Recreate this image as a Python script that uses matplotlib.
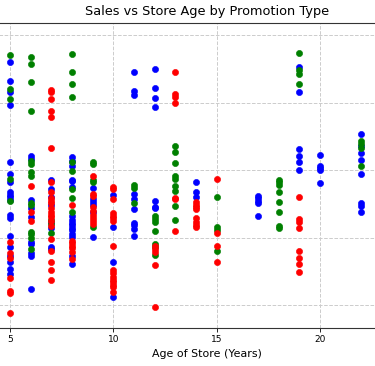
import matplotlib
matplotlib.use('Agg')
import matplotlib.pyplot as plt

# sales by store age, one dict per promotion (age -> list of sales values)
promo1_sales = {
    5: [91.9, 86.4, 83.1, 79.3, 62.4, 58.7, 56.4, 53.5, 52.6, 51.9, 51.1, 46.7,
        45.9, 40.4, 37.3, 34.6, 32.6, 30.7, 29.3],
    6: [64.1, 63.4, 51.1, 48.7, 46.1, 38.8, 38.0, 35.4, 34.5, 24.8],
    7: [57.0, 54.5, 52.1, 49.6, 44.5, 42.7, 37.3, 36.7],
    8: [63.8, 62.8, 61.3, 57.1, 56.6, 55.0, 46.3, 45.3, 44.4, 43.7, 42.8, 42.2,
        41.0, 40.2, 34.6, 32.1],
    9: [54.8, 51.3, 50.6, 49.6, 47.6, 40.1],
    10: [52.6, 43.2, 32.8, 22.3],
    11: [89.1, 83.3, 82.3, 52.9, 51.3, 48.4, 44.4, 43.6, 42.5, 40.4],
    12: [89.9, 84.2, 81.4, 78.6, 50.7, 49.1, 48.7],
    14: [56.4, 53.6, 51.9],
    17: [52.3, 51.6, 50.8, 50.1, 46.5],
    19: [90.6, 83.2, 66.3, 64.1, 62.3, 60.0],
    20: [64.3, 61.2, 60.6, 59.9, 56.1],
    22: [70.7, 67.1, 65.1, 63.0, 58.9, 50.1, 49.4, 47.5],
}

promo2_sales = {
    5: [94.1, 83.9, 80.9, 57.2, 50.7],
    6: [93.6, 91.4, 86.0, 77.6, 62.8, 61.7, 59.5, 58.2, 50.2, 49.6, 41.7, 41.0,
        39.8, 36.5],
    7: [45.2, 44.1, 41.2],
    8: [94.4, 88.9, 85.4, 81.7, 62.3, 59.7, 54.4, 51.8, 47.6],
    9: [62.5, 61.7, 57.0, 56.4, 43.1],
    11: [55.6, 54.8, 50.1],
    12: [46.5, 45.5, 44.5, 41.8, 38.2, 37.2, 34.7],
    13: [67.1, 65.2, 62.0, 58.2, 57.2, 55.4, 53.8, 49.4, 45.2],
    15: [51.9, 43.0, 42.2, 36.1],
    18: [57.0, 56.3, 55.6, 53.6, 50.6, 47.6, 43.4, 42.8],
    19: [94.6, 89.6, 88.4, 85.4],
    22: [68.5, 67.6, 66.4, 61.1],
}

promo3_sales = {
    5: [38.8, 35.3, 33.8, 27.9, 24.1, 23.6, 17.5],
    6: [55.3, 47.5, 44.9],
    7: [83.7, 83.0, 80.9, 77.6, 75.7, 66.4, 56.3, 53.6, 51.6, 50.8, 50.1, 48.7,
        47.5, 46.8, 46.2, 44.9, 43.3, 39.6, 36.1, 32.8, 30.4, 27.4],
    8: [49.7, 39.0, 38.4, 37.6, 36.9, 35.8, 33.5],
    9: [58.3, 52.8, 52.3, 49.0, 47.9, 46.7, 45.8, 44.9, 44.0],
    10: [55.1, 54.3, 51.4, 47.3, 46.4, 45.7, 44.9, 37.5, 30.4, 29.4, 28.4, 27.4,
         26.7, 25.9, 25.2, 23.9],
    12: [37.6, 36.6, 35.6, 31.9, 19.3],
    13: [88.9, 82.4, 81.7, 79.8, 51.8, 51.3, 41.9],
    14: [50.4, 49.6, 49.0, 48.4, 45.9, 44.5, 43.7, 43.2],
    15: [57.4, 41.2, 37.4, 32.7],
    19: [51.9, 45.4, 44.7, 42.7, 36.1, 33.8, 32.1, 29.7],
}

promotions = ['Promotion 1', 'Promotion 2', 'Promotion 3']
colors = ['blue', 'green', 'red']
x_ticks = [5, 10, 15, 20]
y_ticks = [20, 40, 60, 80, 100]


def flatten(d):
    ages, sales = [], []
    for age, vals in d.items():
        ages += [age] * len(vals)
        sales += vals
    return ages, sales


fig = plt.figure(figsize=(3.75, 3.66), dpi=100)
# the visible window is a crop: axes run past both side edges
ax = fig.add_axes([-0.1, 0.1046, 1.304, 0.8326])

for name, d, c in zip(promotions, [promo1_sales, promo2_sales, promo3_sales], colors):
    ages, sales = flatten(d)
    ax.scatter(ages, sales, s=20, color=c, linewidths=0.4, label=name, zorder=3)

ax.set_xlim(2.702, 26.363)
ax.set_ylim(13.27, 103.56)
ax.set_xticks(x_ticks)
ax.set_yticks(y_ticks)
ax.tick_params(axis='x', labelsize=6.5, length=3, width=0.6, pad=2.5)
ax.tick_params(axis='y', labelleft=False, left=False)
ax.grid(True, linestyle='--', color='#cccccc', linewidth=0.7)
ax.spines['left'].set_visible(False)
ax.spines['right'].set_visible(False)
for s in ['top', 'bottom']:
    ax.spines[s].set_linewidth(0.8)
    ax.spines[s].set_color('#333333')

ax.set_title('Sales vs Store Age by Promotion Type', fontsize=9.3)
ax.set_xlabel('Age of Store (Years)', fontsize=7.9, labelpad=3)

fig.savefig('out.png', dpi=100)
